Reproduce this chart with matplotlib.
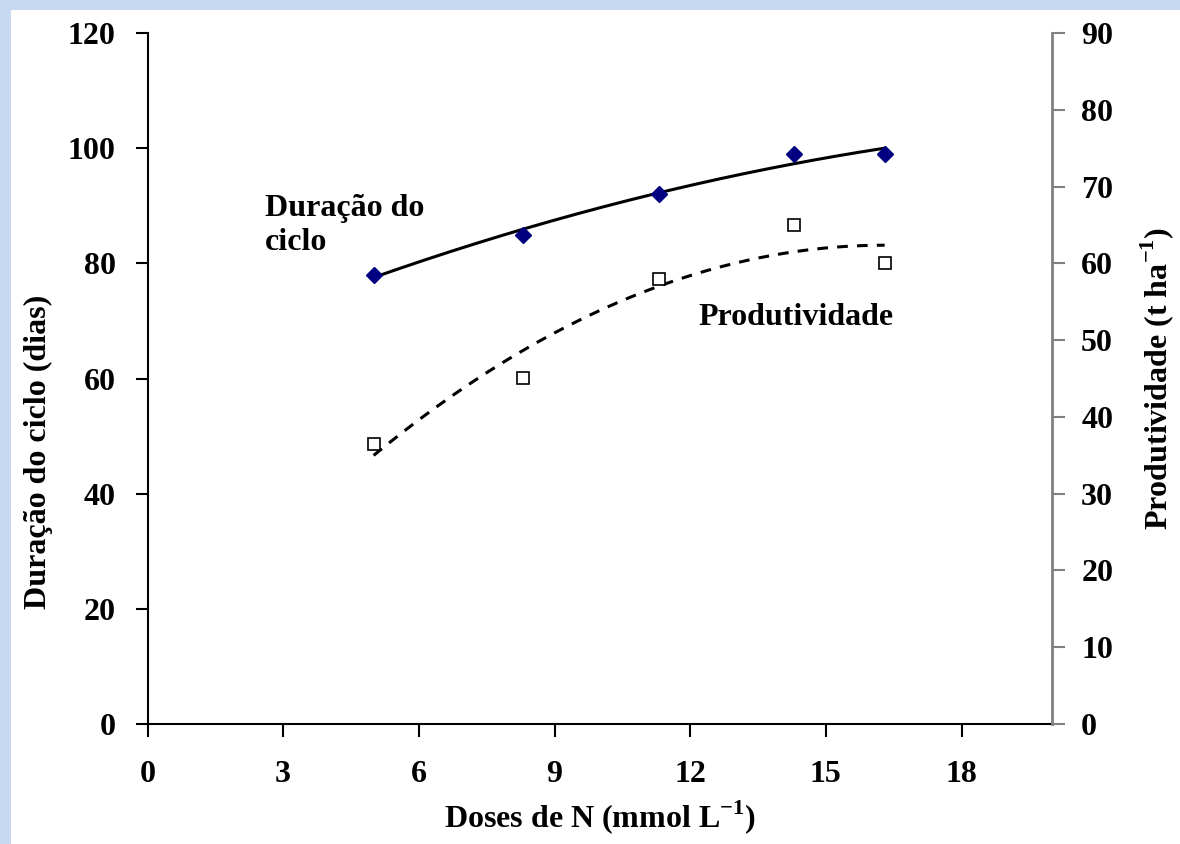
import numpy as np
import matplotlib
matplotlib.use("Agg")
import matplotlib.pyplot as plt
from matplotlib.patches import Rectangle

plt.rcParams['font.family'] = ['Liberation Serif', 'DejaVu Serif']
plt.rcParams['font.weight'] = 'bold'
plt.rcParams['mathtext.fontset'] = 'custom'
plt.rcParams['mathtext.rm'] = 'Liberation Serif:bold'
plt.rcParams['mathtext.bf'] = 'Liberation Serif:bold'

doses = [5, 8.3, 11.3, 14.3, 16.3]
duracao = [78, 85, 92, 99, 99]
produtividade = [36.5, 45, 58, 65, 60]

x_ticks = [0, 3, 6, 9, 12, 15, 18]
y_left_ticks = [0, 20, 40, 60, 80, 100, 120]
y_right_ticks = [0, 10, 20, 30, 40, 50, 60, 70, 80, 90]

fig = plt.figure(figsize=(11.8, 8.44), dpi=100)
fig.patch.set_facecolor('white')
border = '#c6d9f0'
fig.add_artist(Rectangle((0, 1 - 10/844), 1, 10/844, transform=fig.transFigure,
                         facecolor=border, edgecolor='none', zorder=0))
fig.add_artist(Rectangle((0, 0), 11/1180, 1, transform=fig.transFigure,
                         facecolor=border, edgecolor='none', zorder=0))

ax = fig.add_axes([147.5/1180, (844-724)/844, (1052-147.5)/1180, (724-33)/844])
ax2 = ax.twinx()

# trend lines (quadratic fits)
xs = np.linspace(doses[0], doses[-1], 200)
c1 = np.polyfit(doses, duracao, 2)
c2 = np.polyfit(doses, produtividade, 2)
ax.plot(xs, np.polyval(c1, xs), color='black', lw=2.2, zorder=2)
ax2.plot(xs, np.polyval(c2, xs), color='black', lw=2.2, ls=(0, (3.5, 3)), zorder=2)

ax.plot(doses, duracao, ls='none', marker='D', ms=8, color='#000080',
        markeredgecolor='#000080', zorder=3)
ax2.plot(doses, produtividade, ls='none', marker='s', ms=8, markerfacecolor='white',
         markeredgecolor='black', markeredgewidth=1.2, zorder=3)

ax.set_xlim(0, 20)
ax.set_ylim(0, 120)
ax2.set_ylim(0, 90)
ax.set_xticks(x_ticks)
ax.set_yticks(y_left_ticks)
ax2.set_yticks(y_right_ticks)

fs = 23
ax.tick_params(axis='x', direction='out', length=9, width=1.5, labelsize=fs, pad=17)
ax.tick_params(axis='y', direction='out', length=9, width=1.5, labelsize=fs, pad=14)
ax2.tick_params(axis='y', direction='out', length=9, width=1.5, labelsize=fs, pad=12,
                color='#808080')

for a in (ax, ax2):
    a.spines['top'].set_visible(False)
ax.spines['right'].set_visible(False)
ax2.spines['left'].set_visible(False)
ax2.spines['bottom'].set_visible(False)
ax.spines['left'].set_linewidth(1.5)
ax.spines['bottom'].set_linewidth(1.5)
ax2.spines['right'].set_linewidth(2)
ax2.spines['right'].set_color('#808080')

ax.set_xlabel(r'Doses de N (mmol L$^{-1}$)', fontsize=fs, fontweight='bold')
ax.xaxis.set_label_coords(0.50, -0.108)
ax.set_ylabel('Duração do ciclo (dias)', fontsize=fs, fontweight='bold')
ax.yaxis.set_label_coords(-0.104, 0.394)
ax2.set_ylabel(r'Produtividade (t ha$^{-1}$)', fontsize=fs, fontweight='bold', labelpad=18)

ax.text(2.6, 86.6, 'Duração do\nciclo', fontsize=fs, fontweight='bold', ha='left',
        va='center', linespacing=1.25)
ax2.text(14.34, 53, 'Produtividade', fontsize=fs, fontweight='bold', ha='center',
         va='center')

fig.savefig('out.png', dpi=100, facecolor='white')
